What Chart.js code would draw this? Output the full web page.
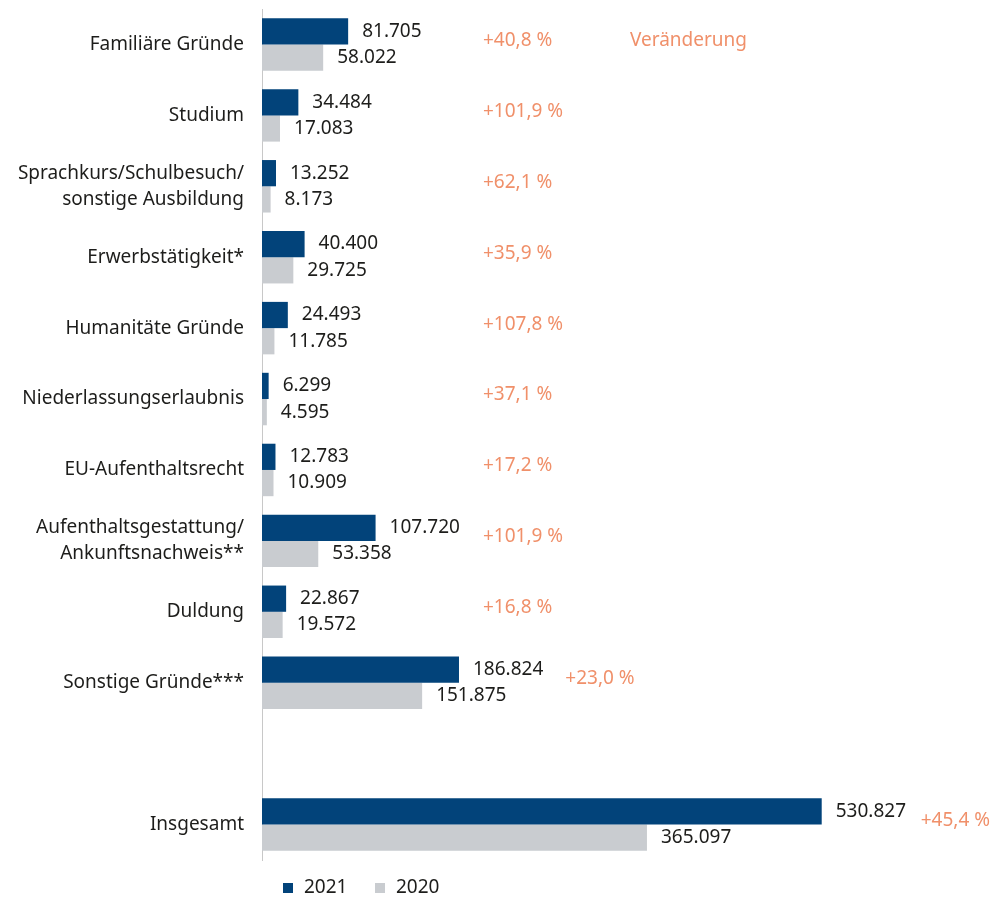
<!DOCTYPE html>
<html>
<head>
<meta charset="utf-8">
<script src="https://cdn.jsdelivr.net/npm/chart.js@4/dist/chart.umd.min.js"></script>
<style>
html,body{margin:0;padding:0;background:#fff;}
#wrap{width:993px;height:897px;position:relative;}
</style>
</head>
<body>
<div id="wrap"><canvas id="c" width="993" height="897"></canvas></div>
<script>
const categories = [
  'Familiäre Gründe',
  'Studium',
  ['Sprachkurs/Schulbesuch/', 'sonstige Ausbildung'],
  'Erwerbstätigkeit*',
  'Humanitäte Gründe',
  'Niederlassungserlaubnis',
  'EU-Aufenthaltsrecht',
  ['Aufenthaltsgestattung/', 'Ankunftsnachweis**'],
  'Duldung',
  'Sonstige Gründe***',
  '',
  'Insgesamt'
];
const values2021 = [81705, 34484, 13252, 40400, 24493, 6299, 12783, 107720, 22867, 186824, null, 530827];
const values2020 = [58022, 17083, 8173, 29725, 11785, 4595, 10909, 53358, 19572, 151875, null, 365097];
const changes = ['+40,8 %', '+101,9 %', '+62,1 %', '+35,9 %', '+107,8 %', '+37,1 %', '+17,2 %', '+101,9 %', '+16,8 %', '+23,0 %', '', '+45,4 %'];
const seriesNames = ['2021', '2020'];
const changeHeader = 'Veränderung';

const FONT = '"Noto Sans", "DejaVu Sans", sans-serif';
const BLUE = '#02437a';
const GREY = '#c9ccd0';
const ORANGE = '#f0906a';
const TEXT = '#1d1d1b';

function fmt(v){ return v.toLocaleString('de-DE'); }

const labelPlugin = {
  id: 'labels',
  afterDatasetsDraw(chart){
    const ctx = chart.ctx;
    const ys = chart.scales.y;
    ctx.save();
    ctx.font = '19px ' + FONT;
    ctx.textBaseline = 'middle';
    ctx.textAlign = 'left';
    ctx.fillStyle = TEXT;
    const meta0 = chart.getDatasetMeta(0);
    const meta1 = chart.getDatasetMeta(1);
    const ends = [];
    for (let i = 0; i < categories.length; i++){
      ends[i] = 0;
      [meta0, meta1].forEach((m, di) => {
        const el = m.data[i];
        const v = chart.data.datasets[di].data[i];
        if (v == null || !el) return;
        const t = fmt(v);
        const x = el.x + 14;
        ctx.fillText(t, x, el.y);
        if (di === 0) ends[i] = x + ctx.measureText(t).width;
      });
    }
    ctx.fillStyle = ORANGE;
    const colX = 483;
    for (let i = 0; i < categories.length; i++){
      if (!changes[i]) continue;
      const y = ys.getPixelForValue(i) - 4;
      const w = ctx.measureText(changes[i]).width;
      let x = Math.max(colX, ends[i] + 22);
      x = Math.min(x, chart.width - w - 3);
      ctx.fillText(changes[i], x, y);
    }
    ctx.fillText(changeHeader, 630, ys.getPixelForValue(0) - 4);
    const ly = 888;
    let lx = 283;
    const cols = [BLUE, GREY];
    seriesNames.forEach((n, k) => {
      ctx.fillStyle = cols[k];
      ctx.fillRect(lx, ly - 5, 10, 10);
      ctx.fillStyle = TEXT;
      ctx.fillText(n, lx + 21, ly);
      lx += 92;
    });
    ctx.restore();
  }
};

new Chart(document.getElementById('c'), {
  type: 'bar',
  data: {
    labels: categories,
    datasets: [
      { label: seriesNames[0], data: values2021, backgroundColor: BLUE, categoryPercentage: 0.74, barPercentage: 1.0 },
      { label: seriesNames[1], data: values2020, backgroundColor: GREY, categoryPercentage: 0.74, barPercentage: 1.0 }
    ]
  },
  options: {
    indexAxis: 'y',
    responsive: false,
    animation: false,
    layout: { padding: { top: 9, right: 14, bottom: 37, left: 0 } },
    plugins: { legend: { display: false }, tooltip: { enabled: false } },
    scales: {
      x: { display: false, min: 0, max: 680000 },
      y: {
        afterFit(s){ s.width = 262; s.paddingTop = 0; s.paddingBottom = 0; },
        grid: { display: false, drawTicks: false },
        border: { display: true, color: '#c8c8c8', width: 1 },
        ticks: { color: TEXT, padding: 18, font: { family: FONT, size: 19, lineHeight: 1.37 } }
      }
    }
  },
  plugins: [labelPlugin]
});
</script>
</body>
</html>
